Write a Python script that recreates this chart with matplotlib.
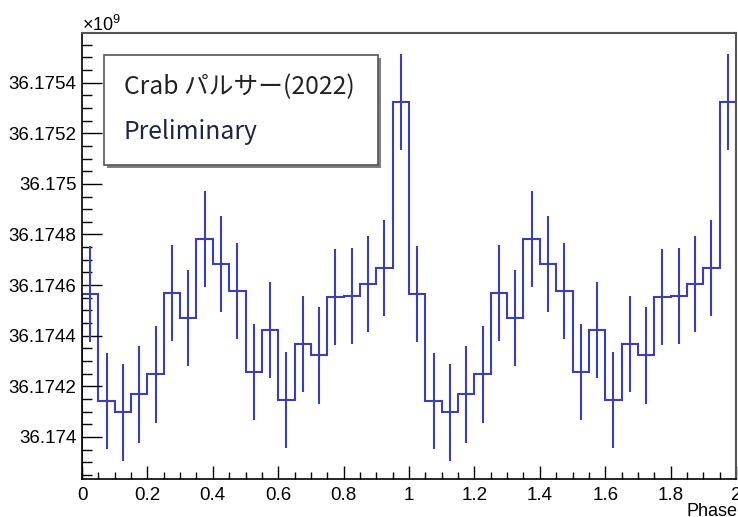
import numpy as np
import matplotlib
matplotlib.use("Agg")
import matplotlib.pyplot as plt
from matplotlib.ticker import MultipleLocator, FuncFormatter
from matplotlib.patches import Rectangle

plt.rcParams['font.family'] = ['Liberation Sans', 'Noto Sans CJK JP']

# --- data: folded pulse profile, 20 phase bins (x1e9 counts), shown twice ---
phase_bins = 20
counts_e9 = [36.174566, 36.174142, 36.174097, 36.174168, 36.174247,
             36.174570, 36.174471, 36.174781, 36.174682, 36.174577,
             36.174257, 36.174422, 36.174146, 36.174368, 36.174322,
             36.174553, 36.174557, 36.174604, 36.174669, 36.175322]
n_cycles = 2
title_text = "Crab パルサー(2022)"
note_text = "Preliminary"
x_title = "Phase"

counts = np.tile(np.array(counts_e9) * 1e9, n_cycles)
errors = np.sqrt(counts)  # Poisson errors
edges = np.linspace(0, n_cycles, phase_bins * n_cycles + 1)
centers = 0.5 * (edges[:-1] + edges[1:])

W, H = 738, 517
fig = plt.figure(figsize=(W / 100, H / 100), dpi=100)
fig.patch.set_facecolor('white')

def fx(px): return px / W
def fy(py): return 1 - py / H

ax = fig.add_axes([fx(82), fy(479), fx(736) - fx(82), fy(33) - fy(479)])

col = '#3c3cbe'
ax.stairs(counts, edges, color=col, lw=1.5)
ax.vlines(centers, counts - errors, counts + errors, color=col, lw=1.5)

ax.set_xlim(0, 2)
ax.set_ylim(36.173834e9, 36.175596e9)

ax.xaxis.set_major_locator(MultipleLocator(0.2))
ax.xaxis.set_minor_locator(MultipleLocator(0.05))
ax.yaxis.set_major_locator(MultipleLocator(2e5))
ax.yaxis.set_minor_locator(MultipleLocator(5e4))
ax.xaxis.set_major_formatter(FuncFormatter(lambda v, p: f"{v:g}"))
ax.yaxis.set_major_formatter(FuncFormatter(lambda v, p: f"{v / 1e9:.4f}".rstrip('0').rstrip('.')))

ax.tick_params(axis='y', which='major', direction='in', length=14.4, width=1, labelsize=13.5, pad=4)
ax.tick_params(axis='y', which='minor', direction='in', length=7.2, width=1)
ax.tick_params(axis='x', which='major', direction='in', length=9.4, width=1, labelsize=13.5, pad=6)
ax.tick_params(axis='x', which='minor', direction='in', length=5, width=1)

for s in ['left', 'bottom']:
    ax.spines[s].set_color('black')
    ax.spines[s].set_linewidth(1.2)
for s in ['top', 'right']:
    ax.spines[s].set_color('#555555')
    ax.spines[s].set_linewidth(1.5)

fig.text(fx(737), fy(503), x_title, ha='right', va='top', fontsize=13)
fig.text(fx(82), fy(31), r'$\mathregular{\times10^{9}}$', ha='left', va='baseline', fontsize=13)

# text box with shadow
bx0, by0, bx1, by1 = 104, 55, 378, 165
fig.patches.append(Rectangle((fx(bx0 + 3), fy(by1 + 3)), fx(bx1 - bx0), fy(by0) - fy(by1),
                             transform=fig.transFigure, facecolor='#808080', edgecolor='none', zorder=5))
fig.patches.append(Rectangle((fx(bx0), fy(by1)), fx(bx1 - bx0), fy(by0) - fy(by1),
                             transform=fig.transFigure, facecolor='white', edgecolor='#555555',
                             lw=1.2, zorder=6))
fig.text(fx(124), fy(87), title_text, ha='left', va='center', fontsize=17.8,
         family=['Noto Sans CJK JP', 'DejaVu Sans'], color='#222222', zorder=7)
fig.text(fx(124), fy(132), note_text, ha='left', va='center', fontsize=17.8,
         family=['Noto Sans CJK JP', 'DejaVu Sans'], color='#222244', zorder=7)

fig.savefig('out.png', dpi=100)
